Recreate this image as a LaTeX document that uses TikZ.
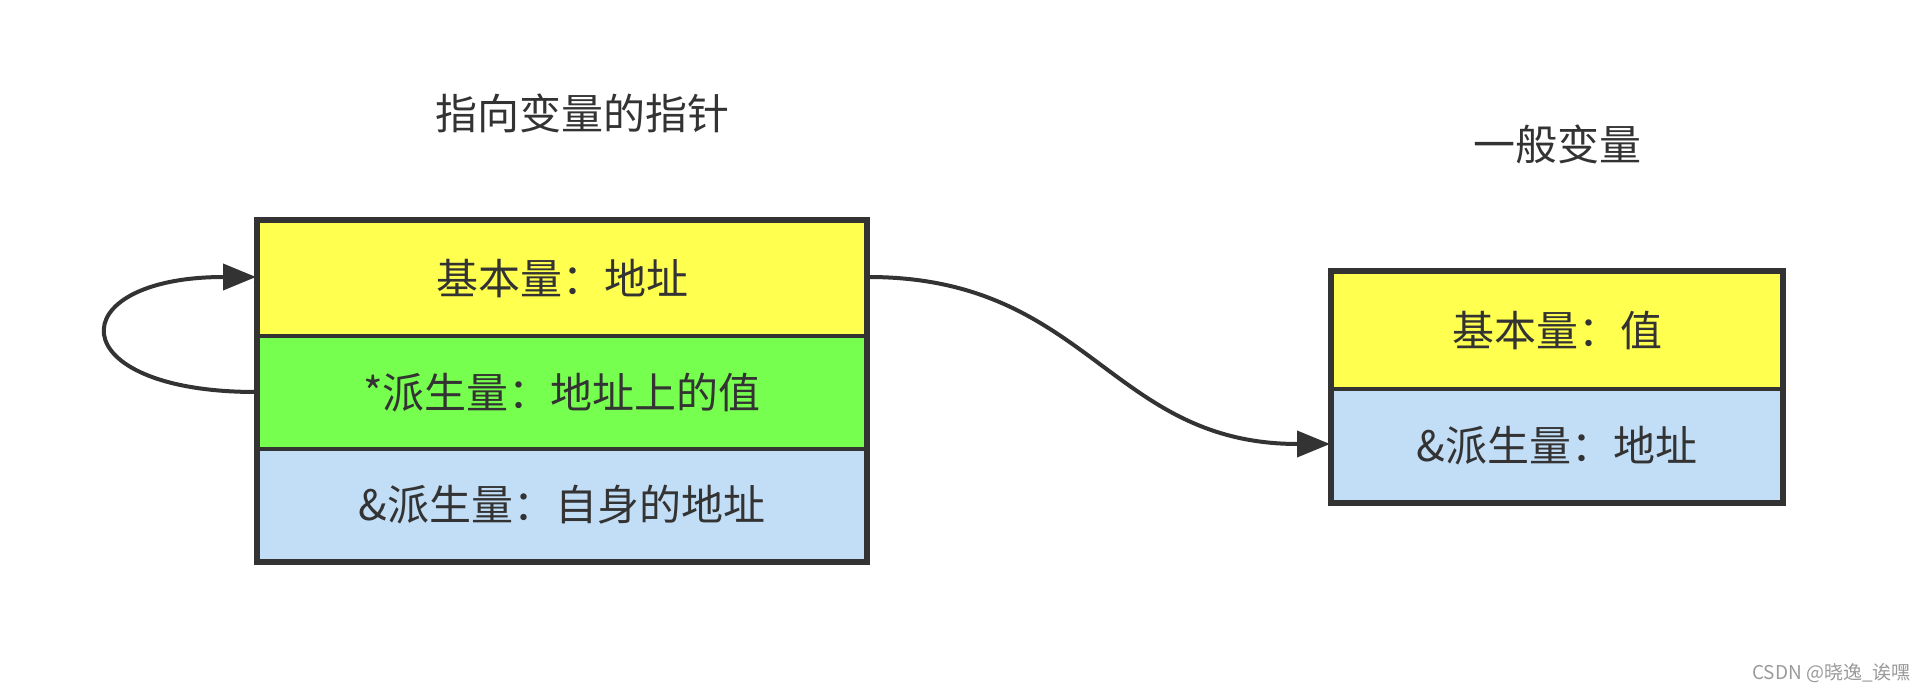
\documentclass[tikz,border=0pt]{standalone}
\usepackage{fontspec}
\newfontfamily\cjk{Noto Sans CJK SC}
\usetikzlibrary{arrows.meta}
\definecolor{ink}{HTML}{333333}
\definecolor{cyel}{HTML}{FFFF50}
\definecolor{cgrn}{HTML}{76FF4E}
\definecolor{cblu}{HTML}{C2DDF6}
\definecolor{wm}{HTML}{9A9A9A}
\tikzset{
  cell/.style={draw=ink, line width=4pt, rectangle, inner sep=0pt, text=ink,
    font=\cjk\fontsize{42}{50}\selectfont},
  title/.style={text=ink, inner sep=0pt, font=\cjk\fontsize{42}{50}\selectfont},
  conn/.style={draw=ink, line width=4pt, -{Triangle[length=33pt,width=26pt]}},
}
\begin{document}
\begin{tikzpicture}[x=1pt,y=-1pt]
\useasboundingbox[fill=white] (0,0) rectangle (1926,692);
% left box
\node[cell, fill=cyel, minimum width=608pt, minimum height=115pt] (p1) at (562,278.5) {基本量：地址};
\node[cell, fill=cgrn, minimum width=608pt, minimum height=113pt] (p2) at (562,392.5) {*派生量：地址上的值};
\node[cell, fill=cblu, minimum width=608pt, minimum height=112pt] (p3) at (562,505) {\&派生量：自身的地址};
% right box
\node[cell, fill=cyel, minimum width=450pt, minimum height=117pt] (v1) at (1557,330.5) {基本量：值};
\node[cell, fill=cblu, minimum width=450pt, minimum height=113pt] (v2) at (1557,445.5) {\&派生量：地址};
% re-stroke outer frames
\draw[draw=ink, line width=4pt] (p1.north west) rectangle (p3.south east);
\draw[draw=ink, line width=4pt] (v1.north west) rectangle (v2.south east);
% titles
\node[title] (t1) at (582,113) {指向变量的指针};
\node[title] (t2) at (1557,144) {一般变量};
% connectors
\draw[conn] ([yshift=0.5pt]p2.west) to[out=180,in=180,looseness=4.4] ([yshift=1.5pt]p1.west);
\draw[conn] ([yshift=1.5pt]p1.east) to[out=0,in=180,looseness=1.15] ([yshift=1.5pt]v2.west);
% watermark
\node[text=wm, inner sep=0pt, anchor=east, font=\cjk\fontsize{19}{22}\selectfont] (wmk) at (1911,673) {CSDN @晓逸\_诶嘿};
\end{tikzpicture}
\end{document}
